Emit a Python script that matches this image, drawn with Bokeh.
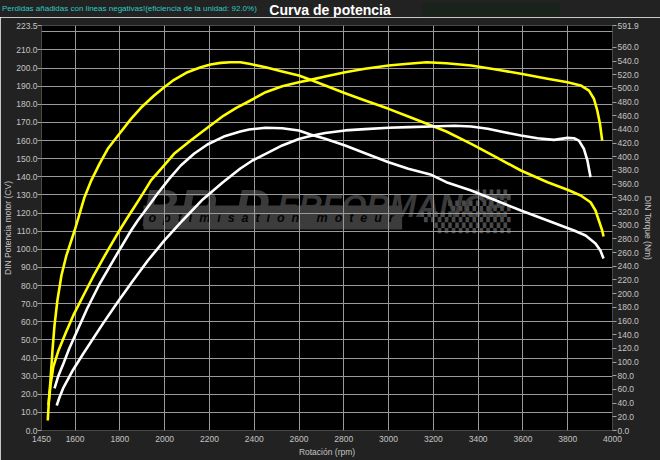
from bokeh.plotting import figure
from bokeh.layouts import column
from bokeh.models import LinearAxis, Range1d, FixedTicker, NumeralTickFormatter, Label, Div
from bokeh.embed import file_html
from bokeh.resources import INLINE

# ---- data ----
rpm_power_tuned = [1481, 1490, 1503, 1526, 1557, 1592, 1637, 1681, 1725, 1798, 1835, 1864, 1902,
                   1939, 1991, 2042, 2116, 2191, 2264, 2320, 2377, 2451, 2525, 2599, 2651, 2717,
                   2806, 2895, 3000, 3088, 3170, 3258, 3369, 3480, 3591, 3710, 3799, 3858, 3895,
                   3917, 3932, 3944, 3954]
power_tuned = [13.8, 24.8, 35.3, 44.2, 53.5, 63.5, 74.5, 85.0, 94.9, 110.4, 117.7, 123.2, 130.6,
               138.0, 145.3, 152.7, 160.0, 167.1, 173.8, 178.0, 181.7, 186.7, 190.0, 192.2, 193.5,
               195.4, 197.7, 199.6, 201.4, 202.4, 203.2, 202.7, 201.4, 199.2, 196.9, 194.1, 192.2,
               190.4, 187.6, 183.1, 176.6, 169.3, 160.0]

rpm_torque_tuned = [1478, 1483, 1490, 1499, 1508, 1521, 1539, 1561, 1598, 1620, 1642, 1672, 1709,
                    1746, 1798, 1850, 1894, 1953, 1998, 2042, 2102, 2161, 2205, 2250, 2294, 2338,
                    2377, 2451, 2525, 2599, 2651, 2717, 2806, 2895, 3000, 3088, 3191, 3258, 3369,
                    3480, 3591, 3710, 3799, 3858, 3902, 3924, 3939, 3954, 3960]
torque_tuned = [14.6, 43.8, 73.1, 116.9, 153.4, 190.0, 226.5, 255.7, 292.3, 316.7, 340.9, 365.3,
                389.7, 411.7, 433.6, 455.5, 471.6, 489.5, 501.7, 512.5, 523.6, 530.9, 534.9, 537.3,
                538.2, 538.2, 535.9, 530.9, 524.6, 518.8, 512.5, 504.2, 492.9, 482.2, 470.1, 458.9,
                445.7, 437.0, 419.0, 399.4, 380.0, 362.9, 351.8, 343.4, 333.6, 321.5, 306.9, 292.3,
                283.5]

rpm_power_stock = [1518, 1530, 1548, 1592, 1637, 1725, 1792, 1859, 1925, 1999, 2080, 2170, 2259,
                   2338, 2392, 2451, 2525, 2599, 2651, 2717, 2806, 2895, 3000, 3088, 3191, 3295,
                   3369, 3443, 3517, 3591, 3665, 3739, 3799, 3828, 3850, 3872, 3888, 3902]
power_stock = [13.8, 18.2, 23.7, 33.7, 42.5, 59.1, 71.2, 82.8, 93.8, 104.9, 115.9, 127.5, 136.9,
               144.6, 149.0, 152.7, 157.3, 160.9, 162.5, 164.2, 165.6, 166.3, 167.1, 167.4, 167.8,
               168.2, 167.8, 166.5, 164.6, 162.8, 161.3, 160.4, 161.5, 161.3, 160.0, 155.5, 149.0,
               139.8]

rpm_torque_stock = [1508, 1526, 1548, 1574, 1610, 1654, 1708, 1770, 1850, 1880, 1924, 1968, 2020,
                    2072, 2131, 2191, 2264, 2338, 2377, 2451, 2525, 2599, 2651, 2717, 2806, 2895,
                    3000, 3088, 3191, 3258, 3369, 3480, 3591, 3710, 3828, 3880, 3924, 3946, 3960]
torque_stock = [61.4, 80.4, 97.9, 119.8, 146.1, 178.3, 213.4, 248.4, 292.3, 306.9, 326.3, 345.9,
                367.8, 387.3, 404.4, 418.0, 429.6, 437.0, 439.9, 442.4, 441.8, 438.4, 432.6, 426.3,
                416.5, 405.2, 392.1, 382.4, 373.7, 362.9, 350.7, 336.1, 321.5, 306.9, 292.3, 285.0,
                273.3, 263.0, 251.4]

x_ticks = [1450, 1600, 1800, 2000, 2200, 2400, 2600, 2800, 3000, 3200, 3400, 3600, 3800, 4000]
power_ticks = [0, 10, 20, 30, 40, 50, 60, 70, 80, 90, 100, 110, 120, 130, 140, 150, 160, 170,
               180, 190, 200, 210, 223.5]
torque_ticks = [0, 20, 40, 60, 80, 100, 120, 140, 160, 180, 200, 220, 240, 260, 280, 300, 320,
                340, 360, 380, 400, 420, 440, 460, 480, 500, 520, 540, 560, 591.9]
power_grid = [10, 20, 30, 40, 50, 60, 70, 80, 90, 100, 110, 120, 130, 140, 150, 160, 170, 180,
              190, 200, 210, 220]

TITLE = "Curva de potencia"
SUBTITLE = "Perdidas añadidas con lineas negativas!(eficiencia de la unidad: 92.0%)"

FONT = "Liberation Sans"
TICK_COLOR = "#c4c4c4"
NB = "\u00a0"
W = 660
HEADER_H = 17

p = figure(width=W, height=460 - HEADER_H, x_range=Range1d(1450, 4000), y_range=Range1d(0, 223.5),
           output_backend="svg", toolbar_location=None,
           min_border_left=38, min_border_right=48, min_border_top=8, min_border_bottom=30,
           background_fill_color="#000000", border_fill_color="#222222", outline_line_color=None)

p.extra_y_ranges = {"torque": Range1d(0, 591.9)}

# bottom axis
xa = p.xaxis[0]
xa.ticker = FixedTicker(ticks=x_ticks)
xa.formatter = NumeralTickFormatter(format="0")
xa.axis_line_color = None
xa.major_tick_line_color = None
xa.minor_tick_line_color = None
xa.major_tick_in = 0
xa.major_tick_out = 0
xa.major_label_standoff = 5
xa.axis_label = "Rotación (rpm)"
xa.axis_label_standoff = 2

# left axis
ya = p.yaxis[0]
ya.ticker = FixedTicker(ticks=power_ticks)
ya.formatter = NumeralTickFormatter(format="0.0")
ya.axis_line_color = None
ya.major_tick_line_color = "#a0a0a0"
ya.minor_tick_line_color = None
ya.major_tick_in = 0
ya.major_tick_out = 4
ya.major_label_standoff = 0
ya.axis_label = "DIN Potencia motor (CV)"
ya.axis_label_standoff = 0

# right axis
ra = LinearAxis(y_range_name="torque", ticker=FixedTicker(ticks=torque_ticks),
                formatter=NumeralTickFormatter(format="0.0"))
ra.axis_line_color = None
ra.major_tick_line_color = "#a0a0a0"
ra.minor_tick_line_color = None
ra.major_tick_in = 0
ra.major_tick_out = 4
ra.major_label_standoff = 1
ra.axis_label = "DIN Torque (Nm)"
ra.axis_label_standoff = 1
p.add_layout(ra, "right")

for ax in (xa, ya, ra):
    ax.major_label_text_font = FONT
    ax.major_label_text_font_size = "8.5px"
    ax.major_label_text_color = TICK_COLOR
    ax.axis_label_text_font = FONT
    ax.axis_label_text_font_size = "8.5px"
    ax.axis_label_text_font_style = "normal"
    ax.axis_label_text_color = TICK_COLOR

# grid
p.xgrid.ticker = FixedTicker(ticks=x_ticks[1:-1])
p.ygrid.ticker = FixedTicker(ticks=power_grid)
p.xgrid.grid_line_color = "#9a9a9a"
p.ygrid.grid_line_color = "#9a9a9a"

# watermark (below grid), placed relative to the frame
p.add_layout(Label(x=100, y=223, x_units="screen", y_units="screen", text="BR-P",
                   text_font=FONT, text_font_style="bold italic", text_font_size="52px",
                   text_color="#3a3a3a", text_baseline="alphabetic", level="image"))
p.add_layout(Label(x=236, y=225, x_units="screen", y_units="screen", text="ERFORMANCE",
                   text_font=FONT, text_font_style="bold italic", text_font_size="32px",
                   text_color="#3a3a3a", text_baseline="alphabetic", level="image"))
bar_text = (NB * 2).join(["o", "p", "t", "i", "m", "i", "s", "a", "t", "i", "o", "n"]) + NB * 5 + \
           (NB * 2).join(["m", "o", "t", "e", "u", "r"]) + NB
p.add_layout(Label(x=102, y=213, x_units="screen", y_units="screen", text=bar_text,
                   text_font=FONT, text_font_style="bold italic", text_font_size="12.5px",
                   text_color="#050505", text_baseline="middle", background_fill_color="#3c3c3c",
                   padding=5, level="image"))
# checkered flag of the logo
for yy, n in ((236, 5), (225, 9), (214, 13), (203, 11)):
    p.add_layout(Label(x=469, y=yy, x_units="screen", y_units="screen", text="\u259a" * n,
                       text_font="DejaVu Sans", text_font_size="9px", text_color="#4a4a4a",
                       text_align="right", text_baseline="middle", level="image"))

# curves
p.line(rpm_torque_tuned, torque_tuned, y_range_name="torque", line_color="#ffff00", line_width=2.6,
       line_join="round")
p.line(rpm_power_tuned, power_tuned, line_color="#ffff00", line_width=2.6, line_join="round")
p.line(rpm_torque_stock, torque_stock, y_range_name="torque", line_color="#ffffff", line_width=2.6,
       line_join="round")
p.line(rpm_power_stock, power_stock, line_color="#ffffff", line_width=2.6, line_join="round")

header = Div(
    text=(
        '<div style="position:relative;width:' + str(W) + 'px;height:' + str(HEADER_H) + 'px;'
        'background:#222222;font-family:\'Liberation Sans\',Arial,sans-serif;overflow:hidden;">'
        '<div style="position:absolute;left:422px;top:3px;width:138px;height:14px;'
        'background:#19221b;"></div>'
        '<div style="position:absolute;left:2px;top:4px;font-size:8px;line-height:10px;'
        'color:#2fc9c4;white-space:nowrap;">' + SUBTITLE + '</div>'
        '<div style="position:absolute;left:0px;top:2px;width:' + str(W) + 'px;text-align:center;'
        'font-size:14px;line-height:17px;font-weight:bold;color:#ffffff;">' + TITLE + '</div>'
        '</div>'
    ),
    width=W, height=HEADER_H, margin=0,
)

layout = column(header, p, spacing=0)
open("out.html", "w").write(file_html(layout, INLINE))
